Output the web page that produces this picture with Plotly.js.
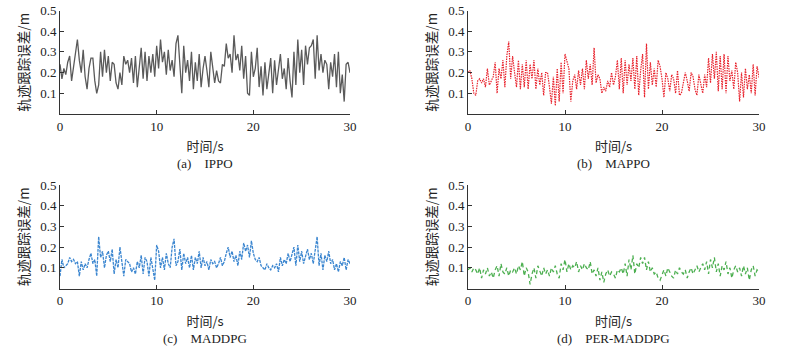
<!DOCTYPE html>
<html>
<head>
<meta charset="utf-8">
<script src="https://cdn.plot.ly/plotly-3.0.1.min.js"></script>
<style>html,body{margin:0;padding:0;background:#fff;}#chart{width:797px;height:355px;}</style>
</head>
<body>
<div id="chart"></div>
<script>
// ---- data (time step 0.2 s, 0..30 s) ----
const timeStep = 0.2;
const ippo = [
0.24,0.17,0.22,0.19,0.25,0.28,0.16,0.22,0.30,0.36,0.26,
0.20,0.31,0.18,0.12,0.22,0.27,0.27,0.16,0.10,0.14,
0.30,0.18,0.31,0.20,0.28,0.16,0.25,0.24,0.15,0.12,
0.20,0.14,0.28,0.24,0.26,0.20,0.27,0.15,0.28,0.13,
0.22,0.32,0.17,0.30,0.16,0.28,0.20,0.29,0.18,0.33,
0.22,0.36,0.25,0.30,0.19,0.31,0.21,0.26,0.18,0.34,
0.38,0.24,0.10,0.33,0.20,0.26,0.16,0.30,0.12,0.25,
0.16,0.29,0.13,0.22,0.28,0.21,0.13,0.30,0.23,0.15,
0.21,0.16,0.15,0.24,0.23,0.34,0.27,0.29,0.20,0.38,
0.26,0.29,0.21,0.33,0.17,0.28,0.10,0.09,0.30,0.18,
0.22,0.32,0.13,0.23,0.09,0.25,0.12,0.20,0.27,0.10,
0.26,0.14,0.21,0.29,0.17,0.22,0.12,0.27,0.16,0.08,
0.30,0.14,0.36,0.20,0.31,0.14,0.33,0.24,0.32,0.33,
0.36,0.17,0.38,0.21,0.29,0.20,0.26,0.24,0.12,0.25,
0.18,0.29,0.13,0.30,0.10,0.19,0.06,0.24,0.25,0.20,0.21];
const mappo = [
0.20,0.21,0.17,0.10,0.09,0.16,0.17,0.15,0.17,0.13,0.22,
0.14,0.16,0.18,0.25,0.10,0.22,0.17,0.26,0.13,0.28,
0.35,0.17,0.28,0.20,0.13,0.26,0.12,0.24,0.13,0.26,
0.12,0.24,0.17,0.26,0.12,0.22,0.14,0.20,0.09,0.20,
0.20,0.13,0.05,0.18,0.04,0.22,0.06,0.25,0.10,0.29,
0.25,0.22,0.06,0.16,0.19,0.12,0.21,0.14,0.22,0.12,
0.26,0.17,0.24,0.14,0.32,0.15,0.19,0.17,0.10,0.13,
0.11,0.16,0.13,0.20,0.14,0.18,0.26,0.12,0.27,0.10,
0.26,0.14,0.24,0.16,0.27,0.12,0.28,0.09,0.21,0.29,
0.08,0.34,0.12,0.25,0.14,0.22,0.13,0.26,0.23,0.17,
0.08,0.20,0.17,0.11,0.19,0.17,0.10,0.21,0.09,0.10,
0.15,0.20,0.16,0.11,0.20,0.18,0.12,0.09,0.19,0.14,
0.10,0.19,0.13,0.27,0.15,0.29,0.17,0.30,0.11,0.28,
0.12,0.29,0.10,0.28,0.16,0.21,0.12,0.25,0.20,0.06,
0.20,0.08,0.22,0.12,0.19,0.10,0.24,0.09,0.23,0.18,0.15];
const maddpg = [
0.06,0.14,0.10,0.11,0.12,0.15,0.13,0.14,0.12,0.13,0.06,
0.13,0.09,0.12,0.10,0.14,0.17,0.12,0.14,0.06,0.25,
0.15,0.18,0.10,0.16,0.18,0.13,0.19,0.07,0.14,0.10,
0.20,0.12,0.06,0.14,0.13,0.12,0.08,0.10,0.07,0.13,
0.10,0.16,0.07,0.15,0.13,0.06,0.15,0.10,0.04,0.21,
0.18,0.10,0.15,0.09,0.17,0.12,0.10,0.20,0.24,0.11,
0.13,0.19,0.09,0.17,0.12,0.15,0.10,0.16,0.09,0.15,
0.12,0.18,0.10,0.15,0.11,0.13,0.09,0.14,0.12,0.13,
0.10,0.12,0.15,0.11,0.13,0.17,0.20,0.15,0.18,0.13,
0.16,0.11,0.18,0.14,0.22,0.18,0.21,0.15,0.23,0.17,
0.14,0.13,0.15,0.11,0.10,0.09,0.12,0.10,0.09,0.11,
0.10,0.12,0.08,0.15,0.11,0.14,0.12,0.17,0.13,0.16,
0.20,0.11,0.21,0.13,0.18,0.12,0.16,0.19,0.14,0.17,
0.12,0.18,0.25,0.11,0.17,0.09,0.16,0.13,0.18,0.12,
0.14,0.09,0.12,0.08,0.13,0.11,0.15,0.09,0.14,0.12,0.10];
const perMaddpg = [
0.09,0.10,0.08,0.10,0.09,0.07,0.10,0.05,0.09,0.07,0.10,
0.06,0.08,0.05,0.09,0.11,0.06,0.12,0.08,0.07,0.10,
0.06,0.09,0.08,0.10,0.07,0.11,0.09,0.13,0.06,0.10,
0.08,0.02,0.07,0.10,0.05,0.11,0.08,0.06,0.10,0.07,
0.09,0.06,0.10,0.08,0.11,0.07,0.05,0.12,0.09,0.14,
0.08,0.12,0.09,0.11,0.10,0.13,0.08,0.11,0.09,0.12,
0.10,0.09,0.13,0.07,0.09,0.06,0.10,0.04,0.08,0.03,
0.07,0.09,0.06,0.08,0.07,0.05,0.09,0.08,0.10,0.07,
0.12,0.06,0.14,0.09,0.16,0.07,0.12,0.10,0.15,0.12,
0.15,0.09,0.13,0.08,0.10,0.07,0.08,0.05,0.04,0.07,
0.09,0.06,0.10,0.08,0.06,0.05,0.09,0.07,0.10,0.08,
0.07,0.09,0.05,0.08,0.10,0.07,0.09,0.11,0.08,0.10,
0.12,0.09,0.13,0.07,0.14,0.10,0.15,0.08,0.12,0.06,
0.11,0.09,0.13,0.07,0.10,0.05,0.09,0.11,0.08,0.10,
0.06,0.11,0.07,0.10,0.04,0.09,0.11,0.06,0.09,0.08,0.07];
const xTicks = [0, 10, 20, 30];
const yTicks = [0.1, 0.2, 0.3, 0.4, 0.5];
const yTitle = '轨迹跟踪误差/m';
const xTitle = '时间/s';
const captions = ['(a)\u2003IPPO', '(b)\u2003MAPPO', '(c)\u2003MADDPG', '(d)\u2003PER-MADDPG'];

// ---- build ----
const time = ippo.map((_, i) => +(i * timeStep).toFixed(2));
const serif = '"Liberation Serif", "Times New Roman", "Noto Sans CJK SC", serif';
const cjk = '"Noto Sans CJK SC", "Liberation Serif", serif';

const series = [
  {y: ippo, color: '#5a5a5a', dash: 'solid', width: 1.3},
  {y: mappo, color: '#e8222c', dash: '1.5px,1px', width: 1.2},
  {y: maddpg, color: '#3b86d0', dash: '3px,1px', width: 1.3},
  {y: perMaddpg, color: '#4caf50', dash: '4px,3px', width: 1.3}
];
const traces = series.map((s, k) => ({
  x: time, y: s.y, type: 'scatter', mode: 'lines',
  line: {color: s.color, dash: s.dash, width: s.width},
  xaxis: k === 0 ? 'x' : 'x' + (k + 1),
  yaxis: k === 0 ? 'y' : 'y' + (k + 1),
  hoverinfo: 'skip', showlegend: false
}));

const W = 797, H = 355;
const xDom = [[60 / W, 350 / W], [468 / W, 759 / W]];
const yDom = [[1 - 114 / H, 1 - 10.5 / H], [1 - 288.5 / H, 1 - 185 / H]];

const layout = {
  width: W, height: H,
  margin: {l: 0, r: 0, t: 0, b: 0},
  paper_bgcolor: '#fff', plot_bgcolor: '#fff',
  font: {family: serif, size: 13, color: '#222'},
  annotations: []
};
for (let k = 0; k < 4; k++) {
  const col = k % 2, row = Math.floor(k / 2);
  const xs = k === 0 ? 'xaxis' : 'xaxis' + (k + 1);
  const ys = k === 0 ? 'yaxis' : 'yaxis' + (k + 1);
  const xa = k === 0 ? 'x' : 'x' + (k + 1);
  const ya = k === 0 ? 'y' : 'y' + (k + 1);
  layout[xs] = {
    domain: xDom[col], anchor: ya, range: [0, 30],
    tickvals: xTicks, ticktext: xTicks.map(String),
    ticks: 'inside', ticklen: 4, tickcolor: '#333', tickwidth: 1,
    showline: true, linecolor: '#333', linewidth: 1,
    showgrid: false, zeroline: false,
    tickfont: {family: serif, size: 13, color: '#222'},
    title: {text: xTitle, font: {family: cjk, size: 13, color: '#222'}, standoff: 9}
  };
  layout[ys] = {
    domain: yDom[row], anchor: xa, range: [0, 0.5],
    tickvals: yTicks, ticktext: yTicks.map(v => v.toFixed(1)),
    ticks: 'inside', ticklen: 4, tickcolor: '#333', tickwidth: 1,
    showline: true, linecolor: '#333', linewidth: 1,
    showgrid: false, zeroline: false,
    tickfont: {family: serif, size: 13, color: '#222'},
    title: {text: yTitle, font: {family: cjk, size: 13.5, color: '#222'}, standoff: 7}
  };
  layout.annotations.push({
    text: captions[k], xref: 'paper', yref: 'paper',
    x: (xDom[col][0] + xDom[col][1]) / 2, y: 1 - (row === 0 ? 163 : 338) / H,
    xanchor: 'center', yanchor: 'middle', showarrow: false,
    font: {family: serif, size: 13, color: '#222'}
  });
}
Plotly.newPlot('chart', traces, layout, {staticPlot: true, displayModeBar: false});
</script>
</body>
</html>
